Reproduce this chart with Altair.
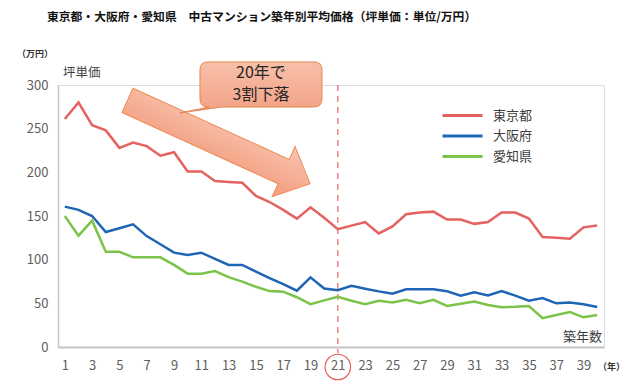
import altair as alt
import pandas as pd

# ---- data ----
years = list(range(1, 41))
tokyo = [261, 280, 254, 248, 228, 234, 230, 219, 223, 201,
         201, 190, 189, 188, 173, 166, 157, 147, 160, 148,
         135, 139, 143, 130, 138, 152, 154, 155, 146, 146,
         141, 143, 154, 154, 147, 126, 125, 124, 137, 139]
osaka = [160.7, 157, 150, 131.7, 136, 140.5, 127, 117.6, 108, 105.4,
         108, 100.8, 94, 94, 86.4, 79, 72, 64.5, 79.8, 67,
         65, 70, 66.8, 63.7, 61, 66, 66, 66, 63.8, 58.8,
         62.6, 59, 64, 58.8, 53, 56, 50, 51, 49, 45.8]
aichi = [150, 127.5, 144.7, 109, 109, 102.7, 102.7, 102.7, 94, 84,
         84, 87, 80, 74.8, 69, 64, 63.4, 57, 49, 53.4,
         57.6, 53, 49, 53, 51, 54, 50, 54, 47, 49.6,
         52, 48, 45.4, 46, 47, 33, 36.6, 40, 34, 36.6]
names = ["東京都", "大阪府", "愛知県"]
colors = ["#e4625f", "#1f65b6", "#7cc34a"]
x_ticks = list(range(1, 40, 2))

FONT = "Noto Sans CJK JP"

rows = []
for name, vals in zip(names, [tokyo, osaka, aichi]):
    for yr, v in zip(years, vals):
        rows.append({"x": yr, "y": v, "series": name})
df = pd.DataFrame(rows)

xscale = alt.Scale(domain=[0.5, 40.5], nice=False, zero=False)
yscale = alt.Scale(domain=[0, 300], nice=False)
xaxis = alt.Axis(values=x_ticks, format="d", title=None, grid=False, ticks=False, tickSize=0,
                 labelFont=FONT, labelFontSize=13, labelColor="#606060", labelPadding=12,
                 domainColor="#c4c4c4", domainWidth=2)
yaxis = alt.Axis(values=[0, 50, 100, 150, 200, 250, 300], title=None, grid=False, ticks=False, tickSize=0,
                 labelFont=FONT, labelFontSize=13, labelColor="#606060", labelPadding=10,
                 domainColor="#c8c8c8", domainWidth=1.5)
X = alt.X("x:Q", scale=xscale, axis=xaxis)
Y = alt.Y("y:Q", scale=yscale, axis=yaxis)

lines = alt.Chart(df).mark_line(strokeWidth=2.5).encode(
    x=X, y=Y,
    color=alt.Color("series:N", sort=names,
                    scale=alt.Scale(domain=names, range=colors),
                    legend=alt.Legend(title=None, orient="none", legendX=383, legendY=24,
                                      symbolType="stroke", symbolSize=1600, symbolStrokeWidth=3,
                                      clipHeight=13, rowPadding=6.5, labelOffset=9, padding=0,
                                      labelFont=FONT, labelFontSize=13, labelColor="#404040")),
    order=alt.Order("series:N", sort="descending"),
)

# dashed marker at 21 years
rule_df = pd.DataFrame({"x": [21], "y": [300], "y2": [-7]})
rule = alt.Chart(rule_df).mark_rule(color="#e8716f", strokeWidth=1.3, strokeDash=[6, 5]).encode(
    x=X, y=Y, y2=alt.Y2("y2:Q"))

circ_df = pd.DataFrame({"x": [21], "y": [-22.9]})
circ = alt.Chart(circ_df).mark_point(shape="circle", size=650, filled=False, color="#e8605c",
                                     strokeWidth=1.2, opacity=1).encode(x=X, y=Y)

# big block arrow
ARROW = "M-1,-0.133L0.71,-0.133L0.71,-0.275L1,0L0.71,0.275L0.71,0.133L-1,0.133Z"
arrow_df = pd.DataFrame({"x": [12.28], "y": [234.7]})
grad = {"gradient": "linear", "x1": 0, "y1": 0, "x2": 0, "y2": 1,
        "stops": [{"offset": 0, "color": "#f9c4ae"}, {"offset": 1, "color": "#f29c7d"}]}
arrow = alt.Chart(arrow_df).mark_point(shape=ARROW, size=40280, angle=24.5, filled=True,
                                       fill=grad, stroke="#ec8b58", strokeWidth=1,
                                       opacity=1, fillOpacity=1).encode(x=X, y=Y)

# callout box
CALLOUT = ("M-0.869,-0.369H0.869Q1,-0.369 1,-0.238V0.238Q1,0.369 0.869,0.369"
           "H-0.64L-1.33,0.467L-0.85,0.369H-0.869Q-1,0.369 -1,0.238V-0.238Q-1,-0.369 -0.869,-0.369Z")
call_df = pd.DataFrame({"x": [15.37], "y": [300.6]})
grad2 = {"gradient": "linear", "x1": 0, "y1": 0, "x2": 0, "y2": 1,
         "stops": [{"offset": 0, "color": "#f8c0a9"}, {"offset": 1, "color": "#f2a084"}]}
callout = alt.Chart(call_df).mark_point(shape=CALLOUT, size=14884, filled=True, fill=grad2,
                                        stroke="#e6864f", strokeWidth=1, opacity=1,
                                        fillOpacity=1).encode(x=X, y=Y)

call_text_df = pd.DataFrame({"x": [15.37, 15.37], "y": [313.5, 288.6], "t": ["20年で", "3割下落"]})
call_text = alt.Chart(call_text_df).mark_text(font=FONT, fontSize=16, color="#262626",
                                              baseline="middle", align="center").encode(
    x=X, y=Y, text="t:N")

# titles / labels
title_df = pd.DataFrame({"x": [-0.31], "y": [378],
                         "t": ["東京都・大阪府・愛知県　中古マンション築年別平均価格（坪単価：単位/万円）"]})
title = alt.Chart(title_df).mark_text(font=FONT, fontSize=11.8, fontWeight="bold", color="#111111",
                                      align="left", baseline="middle").encode(x=X, y=Y, text="t:N")

small_df = pd.DataFrame({"x": [-2.5, 40.06], "y": [335.5, -22.9], "t": ["（万円）", "（年）"]})
small = alt.Chart(small_df).mark_text(font=FONT, fontSize=9, fontWeight="bold", color="#333333",
                                      align="left", baseline="middle").encode(x=X, y=Y, text="t:N")

ylab_df = pd.DataFrame({"x": [0.87], "y": [313.7], "t": ["坪単価"]})
ylab = alt.Chart(ylab_df).mark_text(font=FONT, fontSize=12.5, color="#404040",
                                    align="left", baseline="middle").encode(x=X, y=Y, text="t:N")

xlab_df = pd.DataFrame({"x": [40.35], "y": [11.5], "t": ["築年数"]})
xlab = alt.Chart(xlab_df).mark_text(font=FONT, fontSize=13, color="#404040",
                                    align="right", baseline="middle").encode(x=X, y=Y, text="t:N")

chart = alt.layer(rule, lines, arrow, callout, call_text, circ, title, small, ylab, xlab).properties(
    width=546, height=262,
    padding={"left": 50, "top": 77, "right": 20, "bottom": 40},
    autosize=alt.AutoSizeParams(type="none"),
).configure_view(stroke=None).configure(background="white")

chart.save("out.html", embed_options={"renderer": "svg", "actions": False})
